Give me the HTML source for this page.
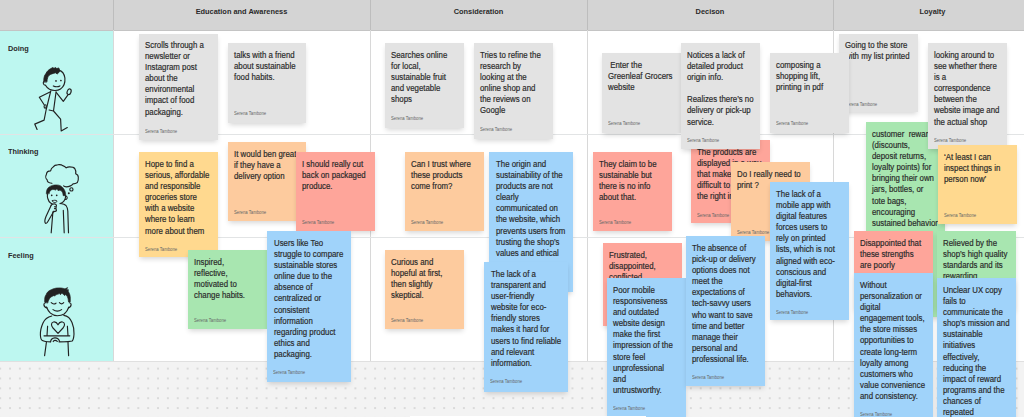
<!DOCTYPE html>
<html><head><meta charset="utf-8">
<style>
html,body{margin:0;padding:0;width:1024px;height:417px;overflow:hidden;background:#f3f3f3;}
body{position:relative;font-family:"Liberation Sans",sans-serif;}
.dots{position:absolute;left:0;top:361px;width:1024px;height:56px;
 background-image:radial-gradient(circle at 0.6px 7.75px,#bdbdbd 0.55px,transparent 0.9px);background-size:9.85px 9.85px;}
.board{position:absolute;left:0;top:0;width:1024px;height:361px;background:#fff;}
.hdr{position:absolute;left:0;top:0;width:1024px;height:31px;background:#d4d4d4;border-bottom:1px solid #c4c4c4;box-sizing:border-box;}
.side{position:absolute;left:0;top:30px;width:113px;height:331px;background:#bdf7f0;}
.vl{position:absolute;top:0;width:1px;height:361px;background:#d8d8d8;}
.vlh{position:absolute;top:0;width:1px;height:30px;background:#bdbdbd;}
.hl{position:absolute;left:0;width:1024px;height:1px;background:#e2e4e5;}
.ht{position:absolute;top:7.3px;font-size:8px;font-weight:bold;color:#2a2a2a;text-align:center;line-height:9px;white-space:nowrap;transform:scaleX(0.925);}
.rl{position:absolute;left:8px;font-size:8px;font-weight:bold;color:#2a2a2a;line-height:9px;transform:scaleX(0.915);transform-origin:0 0;}
.card{position:absolute;box-sizing:border-box;box-shadow:0 3px 5px -1px rgba(0,0,0,0.16);}
.tx{position:absolute;left:6.3px;top:7px;font-size:8.45px;line-height:11.1px;color:#2a2a2a;white-space:nowrap;transform:scaleX(0.93);transform-origin:0 0;-webkit-text-stroke:0.18px #2a2a2a;}
.au{position:absolute;left:6px;font-size:4.8px;line-height:5px;color:#666;white-space:nowrap;transform:scaleX(0.88);transform-origin:0 100%;}
</style></head><body>
<div style="position:absolute;left:0;top:361px;width:1024px;height:1px;background:#e0e0e0"></div><svg style="position:absolute;left:0;top:362px" width="1024" height="55"><defs><pattern id="dp" width="9.867" height="9.867" patternUnits="userSpaceOnUse" x="-4.77" y="1.67"><circle cx="4.9335" cy="4.9335" r="0.62" fill="#a9a9a9"/></pattern></defs><rect width="1024" height="55" fill="url(#dp)"/></svg>
<div class="board">
<div class="side"></div>
<div class="hdr"></div>
<div class="vl" style="left:113px"></div>
<div class="vl" style="left:370px"></div>
<div class="vl" style="left:587px"></div>
<div class="vl" style="left:833px"></div>
<div class="vlh" style="left:113px"></div>
<div class="vlh" style="left:370px"></div>
<div class="vlh" style="left:587px"></div>
<div class="vlh" style="left:833px"></div>
<div class="hl" style="top:134px"></div>
<div class="hl" style="top:237px"></div>

<div class="ht" style="left:113px;width:257px">Education and Awareness</div>
<div class="ht" style="left:370px;width:217px">Consideration</div>
<div class="ht" style="left:587px;width:246px">Decison</div>
<div class="ht" style="left:833px;width:199px">Loyalty</div>
<div class="rl" style="top:44.1px">Doing</div>
<div class="rl" style="top:147.3px">Thinking</div>
<div class="rl" style="top:251.2px">Feeling</div>
<svg style="position:absolute;left:0;top:0" width="113" height="361" viewBox="0 0 113 361" fill="none" stroke="#222" stroke-width="1.15" stroke-linecap="round" stroke-linejoin="round">
<!-- doing -->
<path d="M58.7 70.1 C62 71 64.3 73.5 64.9 78 C65.3 83 63.5 87 60.5 89 C57.5 91 52.5 90.8 49.5 89.3 C47.5 88 46 86.5 45.3 85.1 C43.5 85 42.8 83 43.6 81.8"/>
<path d="M43.8 81.7 C43.6 78 44.5 75 45.7 74 C47 71 49 69.5 51 68.6 L52.5 67.6 L54.1 68.3 L55.5 67.5 L56.8 68.6 L58.7 67.9 L59.5 69.5 L59.6 71.7 L57.2 74 L55.5 72.8 L53.3 73.4 C51.5 74 50 74.3 49.2 75.3 C47.8 76.5 47.2 78.5 46.9 81.7 Z" fill="#222" stroke-width="0.8"/>
<circle cx="56" cy="80.9" r="0.85" fill="#222" stroke="none"/>
<circle cx="60.9" cy="80.5" r="0.85" fill="#222" stroke="none"/>
<path d="M53.3 85.9 Q56.8 87.6 59.9 85.9"/>
<path d="M50.8 90.8 L46.1 110 L44.1 120.1 L34.7 124.1 L37.1 129.5"/>
<path d="M56.1 91.7 L53.5 111 L60.6 119.1 L61.2 130.9 L67.3 127.5 M49.1 110 L53.5 111"/>
<path d="M50.5 91.7 L39.3 97.3 L44 104.5"/>
<ellipse cx="45.2" cy="106.4" rx="1.1" ry="1.7"/>
<path d="M56.4 92.7 L63.3 101.4 L67.6 95.3"/>
<ellipse cx="69.1" cy="91.8" rx="1.9" ry="2.9" transform="rotate(20 69.1 91.8)"/>
<!-- thinking -->
<path d="M51.9 183.3 C49 183 47 182 47.2 179.9 C45.5 178.5 45.5 176 46.3 174.7 C46.5 172 48.5 170.8 50.6 170.8 C51 168.5 52 167.5 53.2 166.9 C54.5 165 56 164.8 57.6 164.8 C60 164.5 62 165 62.7 165.6 C64 166 65.5 167 66.2 167.8 C67.5 167 68.5 166.9 69.6 166.9 C72 166.9 74 167.5 74.8 168.6 C75.8 170 76 172 75.7 173.8 C77.5 174.5 78.3 176 78.3 177.3 C78.5 179.5 78 181.5 77.4 182.5 C76 183.5 74.5 183.8 73.1 183.8 C72.5 185 71.5 185.5 70.5 185.9 C69 186.5 67.5 186.8 66.2 186.8 C65 186.8 64 186.3 63.6 185.9"/>
<circle cx="71.4" cy="189.4" r="1.6"/>
<circle cx="68.8" cy="193.3" r="1" fill="#222" stroke="none"/>
<path d="M47.4 193.5 C47.3 196 47.5 198 47.8 198.5 C48.5 201 49.5 202.3 50.6 202.9 C51.5 203.5 52 203.6 52.1 203.6 M65.7 195.7 C65.5 197.5 65.3 198.5 65 199.3 C64.5 200.5 63.8 201.5 62.9 202.1 C62 202.8 61 203.3 60 203.6"/>
<path d="M46.3 193.5 C46.3 190 47.5 188 49.2 187 C51 185.5 53.5 184.9 56.4 184.9 C59.5 184.9 61.5 186 62.9 187.8 C64.8 189.8 65.8 192.5 65.7 195.7 L63.2 195.7 C63 193 62 191 60.7 190.6 L59 190 L58.5 191 L57.5 189.6 L56.4 189.2 L55 190.3 L54.5 189.5 C53 189.5 52 189.5 51.4 189.9 C50 190.8 49.4 191.8 49.2 193.5 Z" fill="#222" stroke-width="0.6"/>
<path d="M65.6 196 C67 196 67.5 197.5 67 198.5 C66.5 199.5 65.5 199.7 65 199.3"/>
<circle cx="51.7" cy="195.3" r="0.85" fill="#222" stroke="none"/>
<circle cx="56.7" cy="195.3" r="0.85" fill="#222" stroke="none"/>
<path d="M52.4 200.8 C53.5 200 56 200 57.1 201 C56.8 202 56 202.5 54.8 202.5 C53.5 202.5 52.6 202 52.4 200.8 Z" stroke-width="0.9"/>
<path d="M51.2 205.2 C52 204.2 53 203.9 54.2 203.9 C55.3 203.9 56.2 204.5 56.4 205.2 C56.3 206.5 56 207.5 56 208.6 C56.3 209.5 56.5 210.2 56.4 210.8 C55.5 211.5 54.5 211.6 53.8 211.6 M54.5 206.8 L56.2 206.5 M54.5 208.6 L56 208.6"/>
<path d="M51.2 205.2 L46 216.5 C44.8 219.5 44.8 222.5 45.5 223.3 C46.5 223.8 47.5 222.5 48.5 220.5 L53.8 211.2"/>
<path d="M52.9 211.8 L51.2 232.8"/>
<path d="M60.7 203.5 C63 203.8 65 204.5 66 205.5 C67.2 207 67.6 209 67.8 211 L68.5 232.8"/>
<path d="M63.3 210.4 L64.2 232.8"/>
<!-- feeling -->
<path d="M44.7 301.9 C44.5 298 45 296 46 295 C47 292 49 290.5 51.2 289.8 C53.5 288.5 56 288 58.1 288 C61 287.8 63 288.2 65 288.9 L67.6 287.6 L66.5 289.5 L68.8 290 L67.8 290.8 C69 292.5 70 294.5 70.2 296.7 C70.4 299 70.4 300.5 70.2 301.9 L68.5 301.9 C68.3 299 67.8 297 66.8 295.8 L65.5 294.5 L64.8 295.6 C63.5 294.3 62.5 293.5 61.6 293.2 L60.5 294.7 L59.8 293.6 C58 294 57 294.5 55.5 295 L54.6 296.2 L54 295.4 C52.5 296 51.2 296.7 50.4 297.5 C49 299 48.2 301 47.8 302.7 Z" fill="#222" stroke-width="0.7"/>
<path d="M45.6 302.7 C44.5 302.8 43.9 303.5 43.9 304.5 C43.9 306 44.5 307.3 46.9 307.9 M69.4 302.7 C70.5 302.8 71.1 303.6 71.1 304.5 C71.1 306 70.5 307.3 68.5 307.9"/>
<path d="M46.5 307 C47.5 309.5 48.8 311.8 50.4 313.1 C52.5 314.8 55 315.7 57.3 315.7 C59.8 315.7 62.5 315 64.2 314 C66.2 312.3 68 309.5 68.9 307"/>
<path d="M51.2 302.7 Q53.5 305 56 303.2 M59.4 302.7 Q61.6 305 63.7 302.7"/>
<path d="M53 309.6 Q57.3 312.6 61.6 309.6"/>
<path d="M51.8 316 C47.5 317 44.5 319.5 43 323 C41.2 327 40.2 332 40.4 335 C40.5 338 41.3 340 42.4 340.5 C44 341.5 47.5 341.8 50.6 341.8"/>
<path d="M63.8 315.4 C67.5 316 70.5 318.8 72 322.5 C73.7 326.5 74.2 331 74 334 C73.8 337.5 73.2 340 72.2 341 C70.5 341.8 65 341.8 59 341.8"/>
<path d="M47.6 326.2 L47 335.8 M67.4 326.2 L68 335.8 M44 335.8 L69.8 335.8"/>
<path d="M50.6 341.6 C50.8 339.8 52 338.2 54.8 337.9 C57 337.8 58.8 338.8 59.6 341.4 M53.2 341.6 C53.8 340.3 55.6 339.8 57.3 341.4"/>
<path d="M46.4 342.4 L44.6 355.6 M68 342.4 L68.6 355.6"/>
<path d="M58 333.4 L53 328 C50.8 325.5 51 322.5 53.5 322 C55.5 321.6 57 322.8 58 324.8 C59 322.8 60.5 321.6 62.5 322 C65 322.5 65.2 325.5 63 328 Z"/>
</svg>

</div>
<div class="card" style="left:139px;top:34px;width:79px;height:106px;background:#e3e3e3"><div class="tx" style="left:6.3px;top:6px">Scrolls through a<br>newsletter or<br>Instagram post<br>about the<br>environmental<br>impact of food<br>packaging.</div><div class="au" style="top:95.2px">Serena Tambone</div></div>
<div class="card" style="left:228px;top:43px;width:78px;height:80px;background:#e3e3e3"><div class="tx" style="left:6.3px;top:7px">talks with a friend<br>about sustainable<br>food habits.</div><div class="au" style="top:68.2px">Serena Tambone</div></div>
<div class="card" style="left:385px;top:43px;width:79px;height:85px;background:#e3e3e3"><div class="tx" style="left:6.3px;top:7px">Searches online<br>for local,<br>sustainable fruit<br>and vegetable<br>shops</div><div class="au" style="top:73.0px">Serena Tambone</div></div>
<div class="card" style="left:474px;top:43px;width:79px;height:96px;background:#e3e3e3"><div class="tx" style="left:6.3px;top:7px">Tries to refine the<br>research by<br>looking at the<br>online shop and<br>the reviews on<br>Google</div><div class="au" style="top:84.1px">Serena Tambone</div></div>
<div class="card" style="left:602px;top:53px;width:79px;height:80px;background:#e3e3e3"><div class="tx" style="left:6.3px;top:7px">&nbsp;Enter the<br>Greenleaf Grocers<br>website</div><div class="au" style="top:68.2px">Serena Tambone</div></div>
<div class="card" style="left:691px;top:140px;width:79px;height:83px;background:#fea59a"><div class="tx" style="left:6.3px;top:7px">The products are<br>displayed in a way<br>that makes it<br>difficult to find<br>the right info</div><div class="au" style="top:73.0px">Serena Tambone</div></div>
<div class="card" style="left:681px;top:43px;width:79px;height:106px;background:#e3e3e3"><div class="tx" style="left:6.3px;top:7px">Notices a lack of<br>detailed product<br>origin info.<br>&nbsp;<br>Realizes there&rsquo;s no<br>delivery or pick-up<br>service.</div><div class="au" style="top:95.2px">Serena Tambone</div></div>
<div class="card" style="left:839px;top:34px;width:79px;height:78px;background:#e3e3e3"><div class="tx" style="left:6.3px;top:6px">Going to the store<br>with my list printed</div><div class="au" style="top:68.2px">Serena Tambone</div></div>
<div class="card" style="left:770px;top:53px;width:79px;height:80px;background:#e3e3e3"><div class="tx" style="left:6.3px;top:7px">composing a<br>shopping lift,<br>printing in pdf</div><div class="au" style="top:68.2px">Serena Tambone</div></div>
<div class="card" style="left:866px;top:122px;width:79px;height:195px;background:#a8e6b0"><div class="tx" style="left:6.3px;top:7px">customer&nbsp; rewards<br>(discounts,<br>deposit returns,<br>loyalty points) for<br>bringing their own<br>jars, bottles, or<br>tote bags,<br>encouraging<br>sustained behavior</div></div>
<div class="card" style="left:928px;top:43px;width:79px;height:106px;background:#e3e3e3"><div class="tx" style="left:6.3px;top:7px">looking around to<br>see whether there<br>is a<br>correspondence<br>between the<br>website image and<br>the actual shop</div><div class="au" style="top:95.2px">Serena Tambone</div></div>
<div class="card" style="left:139px;top:152px;width:79px;height:105px;background:#ffd98f"><div class="tx" style="left:6.3px;top:7px">Hope to find a<br>serious, affordable<br>and responsible<br>groceries store<br>with a website<br>where to learn<br>more about them</div><div class="au" style="top:95.2px">Serena Tambone</div></div>
<div class="card" style="left:228px;top:142px;width:78px;height:79px;background:#fdcb9e"><div class="tx" style="left:6.3px;top:7px">It would ben great<br>if they have a<br>delivery option</div><div class="au" style="top:68.2px">Serena Tambone</div></div>
<div class="card" style="left:296px;top:152px;width:79px;height:79px;background:#fea59a"><div class="tx" style="left:6.3px;top:7px">I should really cut<br>back on packaged<br>produce.</div><div class="au" style="top:68.2px">Serena Tambone</div></div>
<div class="card" style="left:405px;top:152px;width:79px;height:79px;background:#fdcb9e"><div class="tx" style="left:6.3px;top:7px">Can I trust where<br>these products<br>come from?</div><div class="au" style="top:68.2px">Serena Tambone</div></div>
<div class="card" style="left:489px;top:152px;width:84px;height:140px;background:#a0d3fa"><div class="tx" style="left:6.8px;top:7px">The origin and<br>sustainability of the<br>products are not<br>clearly<br>communicated on<br>the website, which<br>prevents users from<br>trusting the shop&rsquo;s<br>values and ethical<br>&nbsp;</div><div class="au" style="top:128.3px">Serena Tambone</div></div>
<div class="card" style="left:593px;top:152px;width:79px;height:79px;background:#fea59a"><div class="tx" style="left:6.3px;top:7px">They claim to be<br>sustainable but<br>there is no info<br>about that.</div><div class="au" style="top:68.2px">Serena Tambone</div></div>
<div class="card" style="left:731px;top:162px;width:79px;height:79px;background:#fdcb9e"><div class="tx" style="left:6.3px;top:7px">Do I really need to<br>print ?</div><div class="au" style="top:68.2px">Serena Tambone</div></div>
<div class="card" style="left:770px;top:182px;width:79px;height:138px;background:#a0d3fa"><div class="tx" style="left:6.3px;top:7px">The lack of a<br>mobile app with<br>digital features<br>forces users to<br>rely on printed<br>lists, which is not<br>aligned with eco-<br>conscious and<br>digital-first<br>behaviors.</div><div class="au" style="top:128.3px">Serena Tambone</div></div>
<div class="card" style="left:938px;top:145px;width:79px;height:79px;background:#ffd98f"><div class="tx" style="left:6.3px;top:7px">&lsquo;At least I can<br>inspect things in<br>person now&rsquo;</div><div class="au" style="top:68.2px">Serena Tambone</div></div>
<div class="card" style="left:188px;top:250px;width:79px;height:79px;background:#a8e6b0"><div class="tx" style="left:6.3px;top:7px">Inspired,<br>reflective,<br>motivated to<br>change habits.</div><div class="au" style="top:68.2px">Serena Tambone</div></div>
<div class="card" style="left:267px;top:231px;width:84px;height:151px;background:#a0d3fa"><div class="tx" style="left:6.8px;top:7px">Users like Teo<br>struggle to compare<br>sustainable stores<br>online due to the<br>absence of<br>centralized or<br>consistent<br>information<br>regarding product<br>ethics and<br>packaging.</div><div class="au" style="top:139.3px">Serena Tambone</div></div>
<div class="card" style="left:385px;top:250px;width:79px;height:79px;background:#fdcb9e"><div class="tx" style="left:6.3px;top:7px">Curious and<br>hopeful at first,<br>then slightly<br>skeptical.</div><div class="au" style="top:68.2px">Serena Tambone</div></div>
<div class="card" style="left:484px;top:262px;width:84px;height:130px;background:#a0d3fa"><div class="tx" style="left:6.8px;top:7px">The lack of a<br>transparent and<br>user-friendly<br>website for eco-<br>friendly stores<br>makes it hard for<br>users to find reliable<br>and relevant<br>information.</div><div class="au" style="top:117.3px">Serena Tambone</div></div>
<div class="card" style="left:603px;top:243px;width:79px;height:83px;background:#fea59a"><div class="tx" style="left:6.3px;top:7px">Frustrated,<br>disappointed,<br>conflicted</div><div class="au" style="top:68.2px">Serena Tambone</div></div>
<div class="card" style="left:607px;top:278px;width:79px;height:139px;background:#a0d3fa"><div class="tx" style="left:6.3px;top:7px">Poor mobile<br>responsiveness<br>and outdated<br>website design<br>make the first<br>impression of the<br>store feel<br>unprofessional<br>and<br>untrustworthy.</div><div class="au" style="top:128.3px">Serena Tambone</div></div>
<div class="card" style="left:686px;top:236px;width:79px;height:150px;background:#a0d3fa"><div class="tx" style="left:6.3px;top:7px">The absence of<br>pick-up or delivery<br>options does not<br>meet the<br>expectations of<br>tech-savvy users<br>who want to save<br>time and better<br>manage their<br>personal and<br>professional life.</div><div class="au" style="top:139.3px">Serena Tambone</div></div>
<div class="card" style="left:854px;top:231px;width:79px;height:79px;background:#fea59a"><div class="tx" style="left:6.3px;top:7px">Disappointed that<br>these strengths<br>are poorly</div><div class="au" style="top:68.2px">Serena Tambone</div></div>
<div class="card" style="left:937px;top:231px;width:79px;height:79px;background:#a8e6b0"><div class="tx" style="left:6.3px;top:7px">Relieved by the<br>shop&rsquo;s high quality<br>standards and its<br>rewarding<br>programs</div><div class="au" style="top:73.0px">Serena Tambone</div></div>
<div class="card" style="left:854px;top:273px;width:79px;height:150px;background:#a0d3fa"><div class="tx" style="left:6.3px;top:7px">Without<br>personalization or<br>digital<br>engagement tools,<br>the store misses<br>opportunities to<br>create long-term<br>loyalty among<br>customers who<br>value convenience<br>and consistency.</div><div class="au" style="top:139.3px">Serena Tambone</div></div>
<div class="card" style="left:937px;top:278px;width:79px;height:160px;background:#a0d3fa"><div class="tx" style="left:6.3px;top:7px">Unclear UX copy<br>fails to<br>communicate the<br>shop&rsquo;s mission and<br>sustainable<br>initiatives<br>effectively,<br>reducing the<br>impact of reward<br>programs and the<br>chances of<br>repeated<br>visits.</div><div class="au" style="top:161.4px">Serena Tambone</div></div>

<div style="position:absolute;left:410px;top:416px;width:236px;height:1px;background:#fff"></div>
</body></html>
